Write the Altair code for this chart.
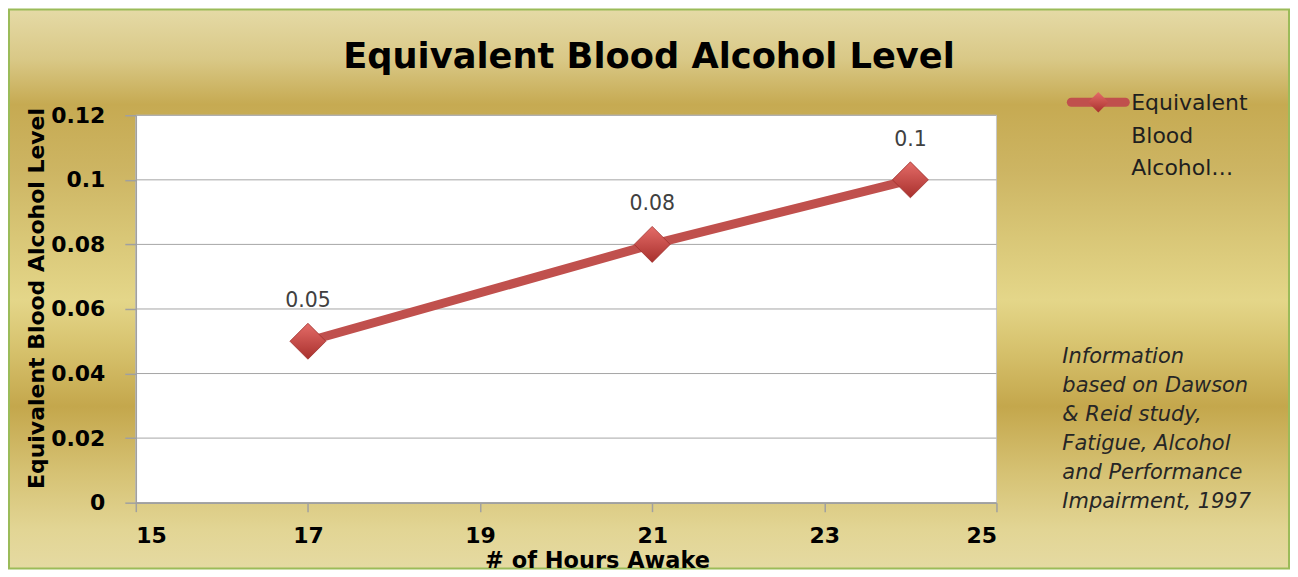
import altair as alt
import pandas as pd

# ---- data ----
hours = [17, 21, 24]
bac = [0.05, 0.08, 0.10]
point_labels = ["0.05", "0.08", "0.1"]
x_ticks = [15, 17, 19, 21, 23, 25]
y_ticks = [0, 0.02, 0.04, 0.06, 0.08, 0.10, 0.12]
chart_title = "Equivalent Blood Alcohol Level"
x_title = "# of Hours Awake"
y_title = "Equivalent Blood Alcohol Level"
legend_lines = ["Equivalent", "Blood", "Alcohol…"]
note_lines = ["Information", "based on Dawson", "& Reid study,",
              "Fatigue, Alcohol", "and Performance", "Impairment, 1997"]

df = pd.DataFrame({"hours": hours, "bac": bac, "label": point_labels})
grid_df = pd.DataFrame({"bac": y_ticks})
one = pd.DataFrame({"a": [0]})

W, H = 862, 388
FONT = "DejaVu Sans"
RED = "#C0504D"

x_scale = alt.Scale(domain=[15, 25], nice=False, zero=False)
y_scale = alt.Scale(domain=[0, 0.12], nice=False)

x_enc = alt.X("hours:Q", scale=x_scale,
              axis=alt.Axis(values=x_ticks, format="d", grid=False, title=x_title,
                            tickSize=9, labelPadding=14, titleX=462, titleY=57.5,
                            titleBaseline="middle", titleAlign="center", zindex=1))
y_enc = alt.Y("bac:Q", scale=y_scale,
              axis=alt.Axis(values=y_ticks, format=".2~f", grid=False, title=y_title,
                            tickSize=11, labelPadding=20, titleX=-99, titleY=183,
                            titleAngle=270, titleBaseline="middle", titleAlign="center",
                            zindex=1))

gold = {
    "gradient": "linear", "x1": 0, "y1": 0, "x2": 0, "y2": 1,
    "stops": [
        {"offset": 0.0, "color": "#E5DAA6"},
        {"offset": 0.09, "color": "#D9C886"},
        {"offset": 0.17, "color": "#C6AA52"},
        {"offset": 0.29, "color": "#CDB563"},
        {"offset": 0.41, "color": "#D9C777"},
        {"offset": 0.52, "color": "#E4D689"},
        {"offset": 0.61, "color": "#D6C16C"},
        {"offset": 0.71, "color": "#C4A74C"},
        {"offset": 0.83, "color": "#D6C274"},
        {"offset": 0.93, "color": "#E2D594"},
        {"offset": 1.0, "color": "#E5DAA2"},
    ],
}

bg = alt.Chart(one).mark_rect(fill=gold, stroke="#9BBB59", strokeWidth=2).encode(
    x=alt.value(-127), x2=alt.value(1155), y=alt.value(-106), y2=alt.value(454))

plot_bg = alt.Chart(one).mark_rect(fill="white", stroke="#C8C8C8", strokeWidth=1).encode(
    x=alt.value(0), x2=alt.value(W), y=alt.value(0), y2=alt.value(H))

grid = alt.Chart(grid_df).mark_rule(color="#A6A6A6", strokeWidth=1).encode(y=y_enc)

line = alt.Chart(df).mark_line(color=RED, strokeWidth=9, strokeCap="round").encode(
    x=x_enc, y=y_enc)

diamond_fill = {
    "gradient": "linear", "x1": 0, "y1": 0, "x2": 0, "y2": 1,
    "stops": [{"offset": 0, "color": "#E46C68"}, {"offset": 1, "color": "#A8302D"}],
}
points = alt.Chart(df).mark_point(shape="diamond", size=1296, filled=True,
                                  fill=diamond_fill, stroke="#9E2E2B", strokeWidth=0.8,
                                  opacity=1).encode(x=x_enc, y=y_enc)

labels = alt.Chart(df).mark_text(font=FONT, fontSize=20.5, color="#404040",
                                 baseline="middle", dy=-40).encode(
    x=x_enc, y=y_enc, text="label:N")

leg_line = alt.Chart(one).mark_rule(color=RED, strokeWidth=9, strokeCap="round").encode(
    x=alt.value(937), x2=alt.value(991), y=alt.value(-13))
leg_pt = alt.Chart(one).mark_point(shape="diamond", size=420, filled=True,
                                   fill=diamond_fill, opacity=1).encode(
    x=alt.value(964), y=alt.value(-13))
leg_text = alt.Chart(one).mark_text(font=FONT, fontSize=22, color="#1F1F1F",
                                    align="left", baseline="alphabetic",
                                    lineHeight=32.5).encode(
    x=alt.value(997), y=alt.value(-5), text=alt.value(legend_lines))

note = alt.Chart(one).mark_text(font=FONT, fontSize=21, fontStyle="italic",
                                color="#262626", align="left", baseline="alphabetic",
                                lineHeight=29).encode(
    x=alt.value(928), y=alt.value(248), text=alt.value(note_lines))

chart = alt.layer(bg, plot_bg, grid, line, points, labels, leg_line, leg_pt,
                  leg_text, note).properties(
    width=W, height=H,
    padding=0,
    title=alt.TitleParams(text=chart_title, font=FONT, fontSize=35.3, fontWeight="bold",
                          color="black", anchor="middle", frame="bounds",
                          baseline="middle", offset=-84),
).configure(background="white").configure_view(stroke=None).configure_axis(
    labelFont=FONT, labelFontSize=22, labelFontWeight="bold", labelColor="black",
    titleFont=FONT, titleFontWeight="bold", titleColor="black",
    domainColor="#A0A0A0", tickColor="#A0A0A0", domainWidth=1.5, tickWidth=1.5,
).configure_axisX(titleFontSize=22.5).configure_axisY(titleFontSize=22)

chart.save("out.html", embed_options={"renderer": "svg", "actions": False})
